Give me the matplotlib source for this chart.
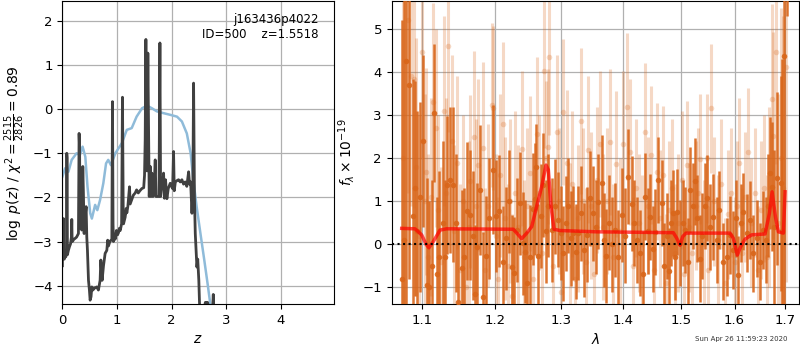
import matplotlib
matplotlib.use("Agg")
import matplotlib.pyplot as plt
from matplotlib.ticker import FixedLocator, FormatStrFormatter, NullLocator, NullFormatter

# --- left panel: redshift fit ---
z_prior = [0.0, 0.05, 0.11, 0.17, 0.26, 0.32, 0.37, 0.42, 0.46, 0.51, 0.54, 0.60, 0.64,
           0.69, 0.75, 0.80, 0.84, 0.89, 0.97, 1.09, 1.18, 1.27, 1.36, 1.46, 1.55, 1.64,
           1.73, 1.85, 1.98, 2.10, 2.19, 2.28, 2.35, 2.40, 2.46, 2.53, 2.60, 2.66, 2.71, 2.80]
logp_prior = [-1.53, -1.34, -1.42, -1.15, -1.00, -1.04, -0.85, -1.08, -1.76, -2.36, -2.48,
              -2.17, -2.29, -2.06, -1.68, -1.23, -1.15, -1.27, -1.00, -0.77, -0.47, -0.43,
              -0.17, 0.02, 0.08, 0.02, -0.05, -0.09, -0.13, -0.17, -0.28, -0.55, -1.00,
              -1.61, -2.21, -2.82, -3.42, -3.95, -4.41, -5.10]

z_fit = [0.000, 0.005, 0.012, 0.019, 0.025, 0.035, 0.043, 0.055, 0.062, 0.075, 0.080, 0.086,
         0.092, 0.110, 0.129, 0.150, 0.165, 0.172, 0.178, 0.184, 0.210, 0.233, 0.260, 0.294,
         0.306, 0.315, 0.325, 0.355, 0.374, 0.385, 0.398, 0.420, 0.435, 0.447, 0.459, 0.478,
         0.495, 0.508, 0.525, 0.539, 0.560, 0.585, 0.610, 0.630, 0.660, 0.691, 0.704, 0.716,
         0.728, 0.753, 0.783, 0.814, 0.830, 0.845, 0.870, 0.906, 0.918, 0.928, 0.936, 0.950,
         0.967, 0.990, 1.010, 1.028, 1.045, 1.060, 1.085, 1.101, 1.115, 1.120, 1.150, 1.170,
         1.181, 1.200, 1.230, 1.242, 1.270, 1.300, 1.334, 1.360, 1.390, 1.420, 1.456, 1.490,
         1.505, 1.517, 1.530, 1.540, 1.550, 1.566, 1.575, 1.585, 1.591, 1.610, 1.625, 1.640,
         1.660, 1.680, 1.701, 1.715, 1.740, 1.770, 1.787, 1.800, 1.820, 1.840, 1.854, 1.870,
         1.890, 1.915, 1.940, 1.976, 2.000, 2.020, 2.037, 2.050, 2.070, 2.100, 2.129, 2.160,
         2.190, 2.220, 2.250, 2.280, 2.313, 2.330, 2.350, 2.374, 2.390, 2.404, 2.420, 2.435,
         2.465, 2.480, 2.500, 2.514, 2.550, 2.600, 2.620, 2.660, 2.700, 2.750, 2.765, 2.775,
         2.850, 3.000]
logp_fit = [-3.55, -2.50, -3.30, -2.48, -3.35, -3.40, -3.20, -3.30, -3.35, -3.20, -1.00, -1.10,
            -3.30, -3.20, -3.12, -3.05, -2.90, -2.50, -2.95, -3.00, -2.95, -2.93, -2.90, -2.82,
            -0.55, -0.90, -2.67, -2.74, -1.30, -1.90, -2.82, -2.40, -2.21, -2.90, -3.20, -3.88,
            -4.10, -4.33, -4.25, -4.03, -4.10, -4.05, -4.05, -4.03, -4.10, -3.88, -3.42, -3.65,
            -3.88, -3.55, -3.27, -3.20, -2.97, -3.10, -3.00, -2.95, 0.17, -2.60, -3.00, -2.85,
            -2.95, -2.75, -2.85, -2.80, -2.70, -2.75, -2.60, 0.27, -2.40, -2.60, -2.45, -2.25,
            -2.35, -2.20, -1.76, -2.15, -2.05, -1.95, -1.90, -1.83, -1.90, -1.85, -1.80, -1.78,
            -1.50, -0.70, 1.58, -0.60, -1.40, 1.27, 0.20, -1.20, -1.98, -1.30, -1.98, -1.45,
            -1.98, -1.80, -1.15, -1.98, -1.98, -1.98, 1.50, -1.98, -1.75, -1.70, -1.45, -2.02,
            -1.60, -2.03, -1.80, -1.68, -1.75, -1.80, -0.96, -1.85, -1.65, -1.62, -1.60, -1.65,
            -1.60, -1.70, -1.65, -1.75, -1.42, -1.70, -1.65, -2.36, -1.90, 0.59, -2.00, -2.82,
            -3.58, -3.40, -3.88, -4.45, -4.80, -4.50, -4.38, -4.38, -4.60, -4.60, -4.20, -4.60,
            -5.50, -7.00]

# --- right panel: spectrum ---
wave_a = [1.0732, 1.0762, 1.0787, 1.0830, 1.0874, 1.0905, 1.0937, 1.0970, 1.1014, 1.1059,
          1.1090, 1.1126, 1.1161, 1.1193, 1.1228, 1.1273, 1.1305, 1.1336, 1.1372, 1.1409,
          1.1455, 1.1487, 1.1534, 1.1566, 1.1611, 1.1649, 1.1687, 1.1719, 1.1751, 1.1789,
          1.1836, 1.1875, 1.1922, 1.1971, 1.2018, 1.2066, 1.2115, 1.2163, 1.2206, 1.2246,
          1.2285, 1.2325, 1.2369, 1.2409, 1.2444, 1.2478, 1.2518, 1.2559, 1.2594, 1.2613,
          1.2643, 1.2680, 1.2719, 1.2761, 1.2796, 1.2848, 1.2900, 1.2941, 1.2988, 1.3029,
          1.3071, 1.3107, 1.3145, 1.3186, 1.3229, 1.3265, 1.3303, 1.3356, 1.3400, 1.3453,
          1.3497, 1.3542, 1.3588, 1.3643, 1.3681, 1.3714, 1.3763, 1.3813, 1.3863, 1.3918,
          1.3975, 1.4030, 1.4085, 1.4143, 1.4182, 1.4234, 1.4285, 1.4331, 1.4371, 1.4414,
          1.4457, 1.4501, 1.4545, 1.4602, 1.4662, 1.4702, 1.4755, 1.4796, 1.4826, 1.4867,
          1.4906, 1.4939, 1.4987, 1.5032, 1.5077, 1.5123, 1.5168, 1.5217, 1.5260, 1.5302,
          1.5351, 1.5397, 1.5444, 1.5486, 1.5536, 1.5598, 1.5661, 1.5714, 1.5786, 1.5851,
          1.5913, 1.5976, 1.6019, 1.6073, 1.6119, 1.6169, 1.6235, 1.6299, 1.6364, 1.6431,
          1.6496, 1.6562, 1.6616, 1.6656, 1.6695, 1.6729, 1.6775, 1.6842, 1.6910, 1.6947,
          1.6984, 1.7032]
flux_a = [-0.80, 0.10, 4.25, 3.70, 0.65, 1.30, 0.30, 1.10, 2.40, -0.95,
          -1.00, -0.50, 3.05, -0.70, -0.30, 0.50, -0.30, 1.37, 1.50, 1.38,
          0.50, -1.33, -0.54, -0.30, 0.78, 0.68, 0.20, -1.16, -0.07, 1.26,
          -1.22, -0.27, 0.60, 1.73, 0.65, 0.78, -0.40, 0.14, 1.00, -0.52,
          -0.67, 0.33, 0.95, 0.02, -0.17, -0.89, -0.29, 0.81, 1.05, 1.80,
          -0.27, 0.66, 1.38, 0.30, 0.90, 0.33, 0.88, 0.57, 0.26, -0.21,
          0.49, 0.90, 0.14, 0.26, -0.17, 0.26, 0.72, -0.13, 0.22, 1.07,
          0.72, 0.40, 0.99, 1.43, 0.10, -0.27, 0.50, 0.00, 0.33, -0.30,
          0.68, 0.20, 1.57, 0.94, 0.50, 0.10, -0.21, -0.69, 1.11, 0.30,
          0.64, -0.10, 0.29, 1.50, 0.95, -0.50, 0.20, -0.61, 0.50, 0.72,
          -0.30, 0.74, 0.04, 0.50, 0.33, -0.40, 1.26, 0.88, 1.46, 0.60,
          -0.33, 0.20, 0.88, 1.07, 0.40, 0.64, 0.10, 0.80, -0.40, -0.29,
          0.22, -0.13, 0.60, -0.71, 0.49, 0.76, 0.26, 0.57, -0.21, 0.14,
          -0.40, 0.33, 0.10, 0.90, 1.65, 1.34, 0.40, 1.53, 1.42, 0.30,
          4.38, 6.30]
err_a = [6.0, 6.0, 6.0, 4.5, 3.2, 2.5, 2.8, 2.2, 2.0, 2.5,
         2.0, 2.0, 1.6, 1.8, 2.0, 1.9, 1.8, 1.6, 1.7, 1.8,
         1.6, 1.7, 1.8, 1.6, 1.6, 1.5, 1.5, 1.6, 1.5, 1.5,
         1.5, 1.4, 1.4, 1.5, 1.3, 1.3, 1.3, 1.2, 1.2, 1.2,
         1.3, 1.2, 1.2, 1.2, 1.2, 1.2, 1.2, 1.3, 1.3, 1.0,
         1.2, 1.2, 1.2, 1.2, 1.2, 1.2, 1.1, 1.1, 1.1, 1.1,
         1.1, 1.1, 1.1, 1.1, 1.1, 1.1, 1.1, 1.1, 1.1, 1.1,
         1.1, 1.1, 1.1, 1.1, 1.1, 1.1, 1.1, 1.1, 1.1, 1.1,
         1.1, 1.1, 1.1, 1.1, 1.0, 1.0, 1.0, 1.0, 1.0, 1.0,
         1.0, 1.0, 1.0, 1.0, 1.0, 1.0, 1.0, 1.0, 1.0, 1.0,
         1.0, 1.0, 1.0, 1.0, 1.0, 1.0, 1.0, 1.0, 1.0, 1.0,
         1.0, 1.0, 1.0, 1.0, 1.0, 1.0, 1.0, 0.9, 0.9, 0.9,
         0.9, 0.9, 0.9, 0.9, 0.9, 0.9, 0.9, 0.9, 0.9, 0.9,
         0.9, 0.9, 1.0, 1.2, 1.3, 1.5, 1.8, 2.0, 2.5, 4.0,
         6.0, 1.0]

wave_b = [1.0749, 1.0817, 1.0848, 1.0891, 1.0924, 1.0957, 1.0993, 1.1030, 1.1050, 1.1076,
          1.1110, 1.1147, 1.1177, 1.1210, 1.1251, 1.1295, 1.1318, 1.1349, 1.1395, 1.1434,
          1.1469, 1.1510, 1.1552, 1.1594, 1.1628, 1.1649, 1.1698, 1.1733, 1.1765, 1.1828,
          1.1861, 1.1897, 1.1956, 1.1980, 1.2011, 1.2040, 1.2076, 1.2115, 1.2149, 1.2185,
          1.2221, 1.2258, 1.2295, 1.2339, 1.2394, 1.2429, 1.2466, 1.2518, 1.2571, 1.2619,
          1.2661, 1.2700, 1.2730, 1.2768, 1.2796, 1.2811, 1.2861, 1.2926, 1.2962, 1.2993,
          1.3029, 1.3082, 1.3126, 1.3166, 1.3213, 1.3253, 1.3303, 1.3340, 1.3381, 1.3426,
          1.3469, 1.3518, 1.3566, 1.3615, 1.3665, 1.3731, 1.3780, 1.3830, 1.3880, 1.3938,
          1.4001, 1.4058, 1.4106, 1.4157, 1.4217, 1.4268, 1.4319, 1.4371, 1.4422, 1.4469,
          1.4518, 1.4574, 1.4632, 1.4690, 1.4738, 1.4782, 1.4844, 1.4898, 1.4960, 1.5014,
          1.5059, 1.5108, 1.5150, 1.5205, 1.5269, 1.5314, 1.5351, 1.5416, 1.5475, 1.5508,
          1.5555, 1.5620, 1.5686, 1.5742, 1.5809, 1.5875, 1.5942, 1.6000, 1.6048, 1.6096,
          1.6144, 1.6202, 1.6266, 1.6329, 1.6398, 1.6457, 1.6526, 1.6586, 1.6636, 1.6675,
          1.6729, 1.6761, 1.6809, 1.6866, 1.6927, 1.6968, 1.7013]
flux_b = [2.00, 5.20, 3.90, 3.84, 1.80, 0.20, 4.47, 1.00, 1.69, -0.30,
          1.10, 3.30, 2.70, 0.80, -0.40, 3.10, 1.20, 4.60, 2.39, 0.30,
          1.90, -0.60, 1.00, -1.00, 0.40, 1.46, 2.50, 0.90, 1.84, 2.23,
          -0.60, 0.90, 3.24, 3.16, 0.20, -0.80, 1.60, 2.79, 0.60, -0.50,
          1.00, -1.20, 1.20, 0.40, 2.22, -0.30, 0.90, 1.65, -0.80, 2.56,
          1.20, -0.20, 4.03, 2.00, 2.27, 4.35, -0.50, 2.60, 1.00, -1.10,
          3.07, 1.88, 0.20, 1.40, -0.80, 0.60, 2.87, 1.00, -0.40, 2.20,
          0.90, -0.70, 1.50, 2.33, 0.40, 1.00, 2.37, -0.30, 1.87, 0.30,
          2.33, 3.20, 2.14, -0.50, 1.30, 0.50, 0.00, 2.62, 0.90, 2.08,
          -0.60, 1.69, 0.60, 1.61, -0.90, 0.80, 1.30, -0.20, 0.50, 1.50,
          -0.70, 1.84, 0.40, -0.20, 0.90, 1.20, 1.98, 0.00, 2.00, -0.60,
          3.16, 1.00, 0.10, 1.40, -0.90, 0.70, 1.20, -0.40, 0.90, 1.90,
          -0.20, 1.10, 2.14, 0.50, 1.20, -0.60, 0.80, 1.30, -0.30, 1.10,
          3.38, 2.52, 4.47, 0.50, 2.00, 1.30, 4.12]
err_b = [6.0, 4.0, 3.0, 3.0, 3.0, 2.8, 2.5, 2.5, 2.4, 2.4,
         2.3, 2.3, 2.3, 2.2, 2.2, 2.2, 2.2, 2.0, 2.0, 2.0,
         2.0, 2.0, 2.0, 2.0, 2.0, 2.0, 2.0, 2.0, 2.0, 2.0,
         1.9, 1.9, 1.9, 1.9, 1.9, 1.9, 1.9, 1.9, 1.9, 1.9,
         1.9, 1.9, 1.9, 1.9, 1.8, 1.8, 1.8, 1.8, 1.8, 1.8,
         1.8, 1.8, 1.8, 1.8, 1.8, 1.8, 1.8, 1.8, 1.7, 1.7,
         1.7, 1.7, 1.7, 1.7, 1.7, 1.7, 1.7, 1.7, 1.7, 1.7,
         1.7, 1.7, 1.7, 1.7, 1.7, 1.7, 1.7, 1.7, 1.7, 1.7,
         1.7, 1.7, 1.7, 1.6, 1.6, 1.6, 1.6, 1.6, 1.6, 1.6,
         1.6, 1.6, 1.6, 1.6, 1.6, 1.6, 1.6, 1.6, 1.6, 1.6,
         1.5, 1.5, 1.5, 1.5, 1.5, 1.5, 1.5, 1.5, 1.5, 1.5,
         1.5, 1.5, 1.5, 1.5, 1.5, 1.5, 1.5, 1.5, 1.5, 1.5,
         1.5, 1.5, 1.5, 1.5, 1.5, 1.5, 1.6, 1.7, 1.9, 2.1,
         2.2, 2.4, 2.6, 3.0, 3.5, 4.0, 5.0]

wave_model = [1.0732, 1.0905, 1.0992, 1.1050, 1.1089, 1.1146, 1.1237, 1.1327, 1.2270, 1.2344,
              1.2394, 1.2469, 1.2544, 1.2619, 1.2695, 1.2761, 1.2797, 1.2838, 1.2884, 1.2977,
              1.3562, 1.4868, 1.4929, 1.4987, 1.5036, 1.5095, 1.5913, 1.5977, 1.6054, 1.6120,
              1.6204, 1.6334, 1.6597, 1.6684, 1.6738, 1.6805, 1.6865, 1.6967, 1.7001]
flux_model = [0.37, 0.36, 0.22, 0.00, -0.08, 0.06, 0.33, 0.36, 0.35, 0.22,
              0.13, 0.26, 0.41, 0.88, 1.34, 1.84, 1.73, 0.88, 0.35, 0.32,
              0.29, 0.27, 0.14, -0.02, 0.18, 0.26, 0.26, 0.14, -0.25, -0.05,
              0.12, 0.22, 0.24, 0.72, 1.22, 0.64, 0.29, 0.26, 1.22]

title_text = "j163436p4022\nID=500    z=1.5518"
stamp = "Sun Apr 26 11:59:23 2020"

orange = "#d9661a"

fig = plt.figure(figsize=(8, 3.5), dpi=100)
ax1 = fig.add_axes([0.078, 0.131, 0.339, 0.866])
ax2 = fig.add_axes([0.4896, 0.131, 0.5095, 0.866])

# redshift panel
ax1.plot(z_prior, logp_prior, color="#8fbbd9", lw=1.8)
ax1.plot(z_fit, logp_fit, color="#404040", lw=2.0)
ax1.set_xlim(0, 4.97)
ax1.set_ylim(-4.42, 2.45)
ax1.set_xticks([0, 1, 2, 3, 4])
ax1.set_yticks([-4, -3, -2, -1, 0, 1, 2])
ax1.grid(True, color="#b0b0b0", lw=0.9)
ax1.set_xlabel(r"$z$", fontsize=10)
ax1.set_ylabel(r"$\log\ p(z)$ / $\chi^2=\frac{2515}{2826}=0.89$", fontsize=10)
ax1.text(0.945, 0.96, title_text, transform=ax1.transAxes, ha="right", va="top",
         fontsize=8.5, linespacing=1.15)

# spectrum panel
ax2.errorbar(wave_b, flux_b, yerr=err_b, fmt="o", color=orange, alpha=0.25,
             ms=4, elinewidth=2.2, capsize=0, mew=0, zorder=2)
ax2.errorbar(wave_a, flux_a, yerr=err_a, fmt="o", color=orange, alpha=0.9,
             ms=4, elinewidth=1.8, capsize=0, mew=0, zorder=3)
ax2.plot(wave_model, flux_model, color="red", alpha=0.7, lw=2.5, zorder=4)
ax2.axhline(0, color="k", ls=":", lw=1.5, zorder=5)

ax2.set_xscale("log")
ax2.set_xlim(1.0604, 1.7293)
ax2.set_ylim(-1.39, 5.65)
ax2.xaxis.set_major_locator(FixedLocator([1.1, 1.2, 1.3, 1.4, 1.5, 1.6, 1.7]))
ax2.xaxis.set_major_formatter(FormatStrFormatter("%.1f"))
ax2.xaxis.set_minor_locator(NullLocator())
ax2.xaxis.set_minor_formatter(NullFormatter())
ax2.set_yticks([-1, 0, 1, 2, 3, 4, 5])
ax2.grid(True, color="#b0b0b0", lw=0.9)
ax2.set_axisbelow(True)
ax2.set_xlabel(r"$\lambda$", fontsize=10)
ax2.set_ylabel(r"$f_\lambda\times10^{-19}$", fontsize=10)

for ax in (ax1, ax2):
    ax.tick_params(labelsize=9.5)

fig.text(0.984, 0.022, stamp, ha="right", va="bottom", fontsize=5, color="0.2")

fig.savefig("out.png", dpi=100)
